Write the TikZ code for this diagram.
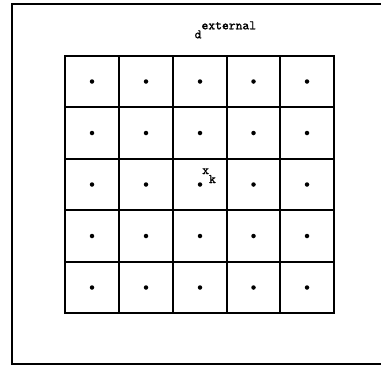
\documentclass[tikz,border=0pt]{standalone}
\usepackage{fontspec}
\newfontfamily\typefont{lmmono10-regular.otf}[FakeBold=1.2]
\usepackage{tikz}
\tikzset{
  point/.style={
    circle,
    fill=black,
    minimum size=4.5pt,
    inner sep=0pt,
  },
  mono/.style={
    inner sep=0pt,
    font=\fontsize{13}{15}\selectfont\typefont,
  },
  wall/.style={
    line width=1.6pt,
  }
}

\begin{document}
\begin{tikzpicture}[x=1pt, y=-1pt]
  \useasboundingbox (0, 0) rectangle (381, 367);
  \draw[wall] (12, 4) rectangle (392, 364);

  \foreach \x in {65, 119, 173, 227, 280, 334}
    \draw[wall, line cap=rect] (\x, 56) -- (\x, 313);
  \foreach \y in {56, 107, 159, 210, 262, 313}
    \draw[wall, line cap=rect] (65, \y) -- (334, \y);

  \foreach \x [count=\i from 0] in {92, 146, 200, 253.5, 307}
    \foreach \y [count=\j from 0] in {81.5, 133, 184.5, 236, 287.5}
      \node[point] (p\i\j) at (\x, \y) {};

  \node[mono, anchor=base west] (dext) at (194.5, 38.3) {d\raisebox{9pt}{external}};
  \node[mono, anchor=base west] (xk) at ([xshift=2pt, yshift=10.5pt]p22.center) {x\raisebox{-9pt}{k}};

\end{tikzpicture}
\end{document}
